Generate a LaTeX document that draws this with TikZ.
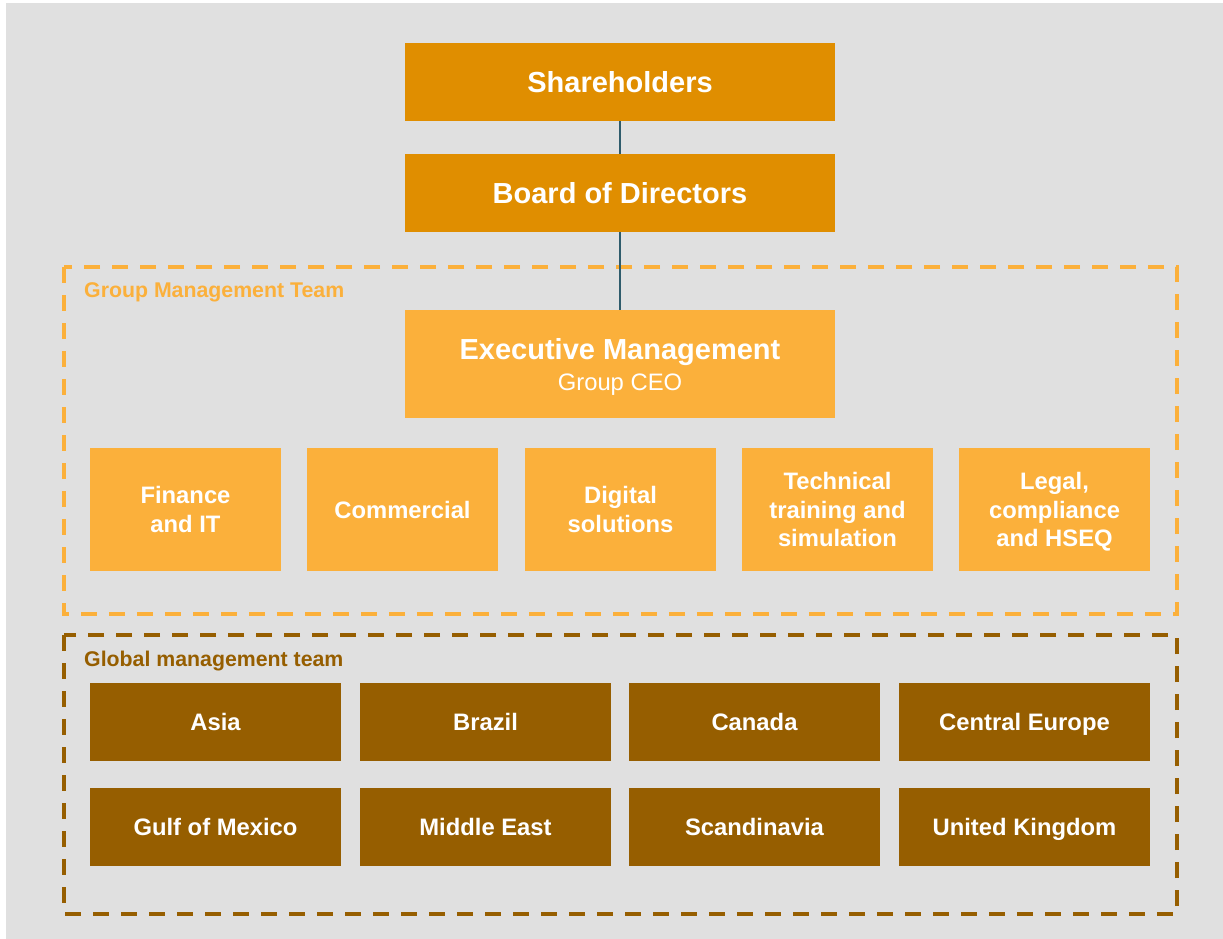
\documentclass[tikz,border=0pt]{standalone}
\usepackage{fontspec}
\setmainfont{Liberation Sans}
\usetikzlibrary{positioning}
\definecolor{bggray}{HTML}{E0E0E0}
\definecolor{topor}{HTML}{E08E00}
\definecolor{midor}{HTML}{FBB03B}
\definecolor{regbrown}{HTML}{965E00}
\definecolor{linkteal}{HTML}{2E5B6B}

\begin{document}
\begin{tikzpicture}[x=1pt, y=-1pt,
		topbox/.style={fill=topor, text=white, minimum width=430, minimum height=78, inner sep=0pt,
			text height=20.8, text depth=0pt, font=\fontsize{29}{31}\selectfont\bfseries},
		execbox/.style={fill=midor, text=white, minimum width=430, minimum height=108, inner sep=0pt, align=center,
			text depth=0pt, font=\fontsize{23.8}{31}\selectfont},
		unitbox/.style={fill=midor, text=white, minimum width=191, minimum height=123, inner sep=0pt, align=center,
			text depth=0pt, font=\fontsize{23.8}{28.5}\selectfont\bfseries},
		regionbox/.style={fill=regbrown, text=white, minimum width=251, minimum height=78, inner sep=0pt,
			text height=17, text depth=0pt, font=\fontsize{23.8}{28}\selectfont\bfseries},
		teamframe/.style={line width=3.3, dash pattern=on 16 off 12},
		teamlabel/.style={anchor=base west, inner sep=0pt, font=\fontsize{21.3}{24}\selectfont\bfseries},
		link/.style={draw=linkteal, line width=2}]
		%%%%% START %%%%%
		
		\useasboundingbox (0, 0) rectangle (1223, 939);
		\fill[bggray] (6, 3) rectangle (1223, 939);
		
		% team frames
		\draw[teamframe, color=midor] (64, 267) rectangle (1177, 614);
		\node[teamlabel, text=midor] (gmtlabel) at (84, 297) {Group Management Team};
		\draw[teamframe, color=regbrown] (64, 635) rectangle (1177, 914);
		\node[teamlabel, text=regbrown] (globlabel) at (84, 666) {Global management team};
		
		% top of the chart
		\node[topbox] (share) at (620, 82) {Shareholders};
		\node[topbox] (board) at (620, 193) {Board of Directors};
		\node[execbox] (exec) at (620, 364) {{\fontsize{29}{31}\selectfont\bfseries Executive Management}\\Group CEO};
		
		\draw[link] (share.south) -- (board.north);
		\draw[link] (board.south) -- (exec.north);
		
		% group functions
		\node[unitbox] (finance) at (185.5, 509.5) {Finance\\and IT};
		\node[unitbox] (commercial) at (402.5, 509.5) {Commercial};
		\node[unitbox] (digital) at (620.5, 509.5) {Digital\\solutions};
		\node[unitbox] (training) at (837.5, 509.5) {Technical\\training and\\simulation};
		\node[unitbox] (legal) at (1054.5, 509.5) {Legal,\\compliance\\and HSEQ};
		
		% regions
		\node[regionbox] (asia) at (215.5, 722) {Asia};
		\node[regionbox] (brazil) at (485.5, 722) {Brazil};
		\node[regionbox] (canada) at (754.5, 722) {Canada};
		\node[regionbox] (centeur) at (1024.5, 722) {Central Europe};
		\node[regionbox] (gulf) at (215.5, 827) {Gulf of Mexico};
		\node[regionbox] (mideast) at (485.5, 827) {Middle East};
		\node[regionbox] (scandi) at (754.5, 827) {Scandinavia};
		\node[regionbox] (uk) at (1024.5, 827) {United Kingdom};
		
		%%%%% END %%%%%
	\end{tikzpicture}
\end{document}
